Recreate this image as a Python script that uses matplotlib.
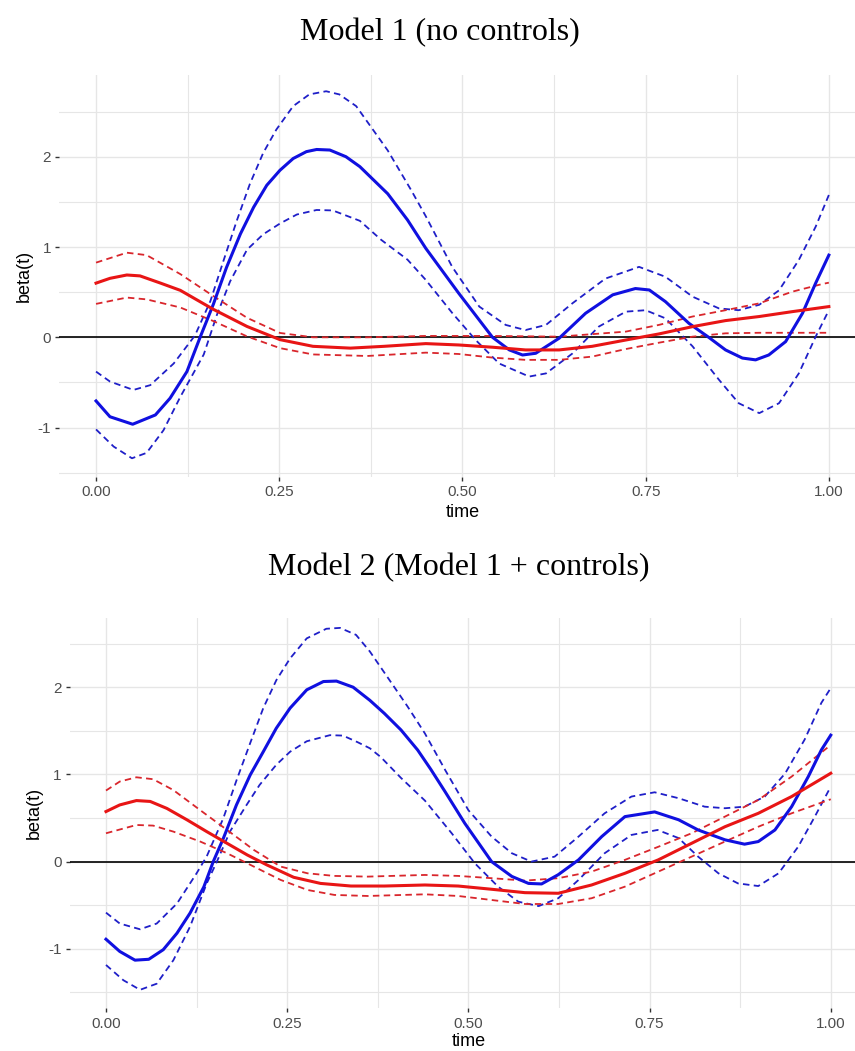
import matplotlib
matplotlib.use("Agg")
import matplotlib.pyplot as plt

# ---------------- Model 1 (no controls) ----------------
m1_blue_t = [0, 0.019, 0.05, 0.081, 0.101, 0.124, 0.142, 0.16, 0.178, 0.197, 0.215, 0.233, 0.251, 0.269,
             0.287, 0.301, 0.319, 0.341, 0.36, 0.398, 0.425, 0.45, 0.495, 0.541, 0.564, 0.582, 0.6, 0.632,
             0.668, 0.705, 0.736, 0.755, 0.777, 0.809, 0.836, 0.859, 0.882, 0.9, 0.918, 0.941, 0.964,
             0.982, 1.0]
m1_blue = [-0.705, -0.88, -0.963, -0.86, -0.675, -0.38, 0.0, 0.364, 0.773, 1.145, 1.44, 1.684, 1.85, 1.98,
           2.056, 2.08, 2.074, 2.0, 1.89, 1.59, 1.30, 0.985, 0.487, 0.0, -0.14, -0.196, -0.177, -0.01,
           0.266, 0.47, 0.54, 0.524, 0.395, 0.155, 0.0, -0.14, -0.23, -0.25, -0.196, -0.048, 0.266,
           0.6, 0.91]

m1_blue_up_t = [0, 0.019, 0.051, 0.074, 0.106, 0.135, 0.156, 0.174, 0.192, 0.21, 0.228, 0.246, 0.269, 0.291,
                0.314, 0.332, 0.355, 0.398, 0.43, 0.45, 0.486, 0.523, 0.559, 0.586, 0.614, 0.65, 0.695,
                0.741, 0.777, 0.814, 0.85, 0.877, 0.905, 0.932, 0.959, 0.982, 1.0]
m1_blue_up = [-0.38, -0.49, -0.583, -0.53, -0.29, 0.02, 0.40, 0.85, 1.29, 1.70, 2.04, 2.30, 2.56, 2.69,
              2.725, 2.69, 2.56, 2.07, 1.63, 1.34, 0.78, 0.34, 0.137, 0.08, 0.137, 0.376, 0.65,
              0.78, 0.67, 0.45, 0.32, 0.30, 0.36, 0.52, 0.856, 1.225, 1.576]

m1_blue_lo_t = [0, 0.024, 0.049, 0.069, 0.092, 0.115, 0.147, 0.165, 0.183, 0.206, 0.228, 0.251, 0.274, 0.301,
                0.323, 0.36, 0.389, 0.425, 0.45, 0.486, 0.518, 0.55, 0.591, 0.614, 0.65, 0.686, 0.723, 0.75,
                0.777, 0.814, 0.85, 0.877, 0.905, 0.932, 0.959, 0.982, 1.0]
m1_blue_lo = [-1.02, -1.21, -1.34, -1.28, -1.03, -0.66, -0.19, 0.25, 0.62, 0.97, 1.14, 1.26, 1.36, 1.41,
              1.405, 1.29, 1.08, 0.86, 0.635, 0.27, -0.03, -0.29, -0.435, -0.40, -0.18, 0.118, 0.284, 0.30,
              0.21, -0.10, -0.47, -0.73, -0.84, -0.73, -0.40, 0.007, 0.3]

m1_red_t = [0, 0.019, 0.042, 0.06, 0.088, 0.115, 0.16, 0.206, 0.251, 0.296, 0.347, 0.393, 0.45,
            0.495, 0.541, 0.586, 0.632, 0.677, 0.723, 0.768, 0.814, 0.859, 0.905, 0.95, 1.0]
m1_red = [0.60, 0.653, 0.69, 0.68, 0.60, 0.52, 0.31, 0.12, -0.026, -0.10, -0.12, -0.10, -0.07,
          -0.085, -0.11, -0.14, -0.14, -0.10, -0.03, 0.037, 0.118, 0.185, 0.23, 0.284, 0.34]

m1_red_up_t = [0, 0.042, 0.069, 0.115, 0.16, 0.206, 0.251, 0.296, 0.37, 0.45, 0.541, 0.632, 0.723,
               0.768, 0.814, 0.859, 0.905, 0.95, 0.991, 1.0]
m1_red_up = [0.827, 0.937, 0.91, 0.70, 0.457, 0.216, 0.048, 0.0, 0.0, 0.015, 0.015, 0.007, 0.063,
             0.137, 0.23, 0.30, 0.376, 0.505, 0.59, 0.605]

m1_red_lo_t = [0, 0.042, 0.069, 0.115, 0.16, 0.206, 0.251, 0.296, 0.37, 0.45, 0.495, 0.541, 0.586,
               0.632, 0.677, 0.723, 0.768, 0.814, 0.859, 0.905, 0.95, 1.0]
m1_red_lo = [0.37, 0.44, 0.42, 0.33, 0.18, 0.01, -0.12, -0.19, -0.207, -0.17, -0.185, -0.225, -0.25,
             -0.25, -0.214, -0.13, -0.06, 0.007, 0.044, 0.05, 0.05, 0.05]

# ---------------- Model 2 (Model 1 + controls) ----------------
m2_blue_t = [0, 0.019, 0.04, 0.059, 0.079, 0.098, 0.116, 0.135, 0.148, 0.162, 0.18, 0.199, 0.217, 0.235,
             0.254, 0.277, 0.3, 0.318, 0.341, 0.364, 0.384, 0.407, 0.43, 0.448, 0.468, 0.495, 0.532, 0.56,
             0.583, 0.601, 0.624, 0.652, 0.684, 0.716, 0.757, 0.79, 0.817, 0.854, 0.881, 0.9, 0.923, 0.946,
             0.969, 0.987, 1.0]
m2_blue = [-0.89, -1.03, -1.13, -1.12, -1.01, -0.82, -0.59, -0.29, 0.0, 0.268, 0.65, 0.994, 1.26, 1.53,
           1.76, 1.97, 2.065, 2.07, 2.0, 1.85, 1.70, 1.51, 1.28, 1.06, 0.80, 0.44, 0.0, -0.17,
           -0.25, -0.256, -0.15, 0.02, 0.287, 0.516, 0.57, 0.48, 0.363, 0.25, 0.20, 0.23, 0.363, 0.63,
           0.975, 1.28, 1.45]

m2_blue_up_t = [0, 0.019, 0.047, 0.07, 0.098, 0.125, 0.139, 0.162, 0.18, 0.199, 0.217, 0.235, 0.254, 0.277,
                0.304, 0.323, 0.345, 0.364, 0.388, 0.416, 0.44, 0.468, 0.5, 0.532, 0.56, 0.587, 0.619, 0.652,
                0.688, 0.725, 0.757, 0.79, 0.826, 0.854, 0.881, 0.909, 0.937, 0.964, 0.987, 1.0]
m2_blue_up = [-0.585, -0.71, -0.776, -0.71, -0.48, -0.134, 0.06, 0.50, 0.93, 1.36, 1.76, 2.08, 2.33, 2.56,
              2.67, 2.68, 2.60, 2.41, 2.12, 1.78, 1.47, 1.05, 0.59, 0.287, 0.096, 0.0, 0.057, 0.287,
              0.554, 0.746, 0.795, 0.727, 0.63, 0.612, 0.63, 0.746, 1.01, 1.40, 1.82, 1.99]

m2_blue_lo_t = [0, 0.024, 0.047, 0.07, 0.093, 0.116, 0.139, 0.153, 0.171, 0.194, 0.212, 0.235, 0.254, 0.277,
                0.309, 0.327, 0.347, 0.364, 0.379, 0.407, 0.44, 0.477, 0.509, 0.541, 0.569, 0.597, 0.624,
                0.652, 0.688, 0.725, 0.761, 0.79, 0.817, 0.845, 0.872, 0.9, 0.928, 0.955, 0.978, 1.0]
m2_blue_lo = [-1.185, -1.36, -1.47, -1.40, -1.13, -0.745, -0.25, 0.0, 0.344, 0.65, 0.88, 1.11, 1.26, 1.38,
              1.45, 1.445, 1.37, 1.30, 1.20, 0.96, 0.70, 0.325, -0.02, -0.287, -0.46, -0.51, -0.42,
              -0.21, 0.096, 0.306, 0.363, 0.27, 0.057, -0.134, -0.25, -0.28, -0.134, 0.17, 0.516, 0.86]

m2_red_t = [0, 0.019, 0.042, 0.061, 0.084, 0.112, 0.139, 0.167, 0.195, 0.222, 0.259, 0.296, 0.338, 0.384,
            0.44, 0.486, 0.532, 0.578, 0.624, 0.67, 0.716, 0.762, 0.808, 0.854, 0.9, 0.946, 1.0]
m2_red = [0.574, 0.65, 0.70, 0.69, 0.61, 0.478, 0.344, 0.21, 0.076, -0.038, -0.18, -0.25, -0.28, -0.28,
          -0.268, -0.28, -0.317, -0.356, -0.363, -0.268, -0.134, 0.02, 0.21, 0.40, 0.554, 0.746, 1.013]

m2_red_up_t = [0, 0.019, 0.042, 0.065, 0.093, 0.13, 0.167, 0.204, 0.241, 0.278, 0.315, 0.361, 0.44, 0.486,
               0.532, 0.578, 0.624, 0.67, 0.716, 0.762, 0.808, 0.854, 0.9, 0.946, 1.0]
m2_red_up = [0.815, 0.918, 0.967, 0.945, 0.82, 0.59, 0.363, 0.134, -0.057, -0.134, -0.164, -0.172, -0.153,
             -0.164, -0.19, -0.218, -0.19, -0.115, 0.02, 0.17, 0.325, 0.516, 0.707, 0.975, 1.338]

m2_red_lo_t = [0, 0.042, 0.065, 0.093, 0.13, 0.167, 0.204, 0.241, 0.278, 0.315, 0.361, 0.44, 0.486, 0.532,
               0.578, 0.624, 0.67, 0.716, 0.762, 0.808, 0.854, 0.9, 0.946, 1.0]
m2_red_lo = [0.325, 0.42, 0.413, 0.344, 0.23, 0.096, -0.057, -0.21, -0.325, -0.382, -0.394, -0.375, -0.394,
             -0.44, -0.486, -0.486, -0.42, -0.287, -0.115, 0.057, 0.23, 0.40, 0.554, 0.715]

titles = ["Model 1 (no controls)", "Model 2 (Model 1 + controls)"]
x_label = "time"
y_label = "beta(t)"
x_ticks = [0.0, 0.25, 0.5, 0.75, 1.0]
x_ticklabels = ["0.00", "0.25", "0.50", "0.75", "1.00"]
y_ticks = [-1, 0, 1, 2]
y_ticklabels = ["-1", "0", "1", "2"]

BLUE = "#1010E0"
RED = "#E81515"
RED_D = "#D9262C"
BLUE_D = "#1F1FC8"
GRID = "#E6E6E6"
SANS = "Liberation Sans"

W, H = 855, 1051
fig = plt.figure(figsize=(W / 100, H / 100), dpi=100)
fig.patch.set_facecolor("white")


def px_rect(left, right, top, bottom):
    return [left / W, 1 - bottom / H, (right - left) / W, (bottom - top) / H]


panels = [
    dict(rect=px_rect(59.4, 865.5, 75, 476.7), ylim=(-1.544, 2.905),
         curves=[(m1_blue_t, m1_blue, m1_blue_up_t, m1_blue_up, m1_blue_lo_t, m1_blue_lo),
                 (m1_red_t, m1_red, m1_red_up_t, m1_red_up, m1_red_lo_t, m1_red_lo)],
         title_x=440, title_y=40, ylab_x=24.5, xlab_y=517),
    dict(rect=px_rect(69.75, 867, 618.3, 1008.3), ylim=(-1.682, 2.79),
         curves=[(m2_blue_t, m2_blue, m2_blue_up_t, m2_blue_up, m2_blue_lo_t, m2_blue_lo),
                 (m2_red_t, m2_red, m2_red_up_t, m2_red_up, m2_red_lo_t, m2_red_lo)],
         title_x=459, title_y=575, ylab_x=34.5, xlab_y=1046),
]

DASH = (0, (3.6, 2.4))

for i, p in enumerate(panels):
    ax = fig.add_axes(p["rect"])
    ax.set_xlim(-0.05, 1.05)
    ax.set_ylim(*p["ylim"])
    for s in ax.spines.values():
        s.set_visible(False)
    ax.set_xticks(x_ticks)
    ax.set_xticklabels(x_ticklabels)
    ax.set_yticks(y_ticks)
    ax.set_yticklabels(y_ticklabels)
    ax.set_xticks([0.125, 0.375, 0.625, 0.875], minor=True)
    ax.set_yticks([-1.5, -0.5, 0.5, 1.5, 2.5], minor=True)
    ax.tick_params(which="major", length=3, width=1.0, color="#333333", labelsize=11,
                   labelcolor="#4D4D4D", pad=3)
    ax.tick_params(which="minor", length=0)
    for lbl in ax.get_xticklabels() + ax.get_yticklabels():
        lbl.set_family(SANS)
    ax.grid(which="major", color=GRID, linewidth=1.0)
    ax.grid(which="minor", color=GRID, linewidth=0.8)
    ax.set_axisbelow(True)
    ax.axhline(0, color="black", linewidth=1.2, zorder=2)

    colors = [(BLUE, BLUE_D), (RED, RED_D)]
    for (tt, v, tu, vu, tl, vl), (cs, cd) in zip(p["curves"], colors):
        ax.plot(tu, vu, color=cd, linewidth=1.3, linestyle=DASH, zorder=3)
        ax.plot(tl, vl, color=cd, linewidth=1.3, linestyle=DASH, zorder=3)
        ax.plot(tt, v, color=cs, linewidth=2.2, zorder=4)

    # title
    fig.text(p["title_x"] / W, 1 - p["title_y"] / H, titles[i], ha="center", va="baseline",
             fontsize=23, family="Liberation Serif", color="black")
    # x label centred on panel
    cx = p["rect"][0] + p["rect"][2] * (0.55 / 1.1)
    fig.text(cx, 1 - p["xlab_y"] / H, x_label, ha="center", va="baseline",
             fontsize=13, family=SANS, color="black")
    # y label centred vertically on panel
    cy = p["rect"][1] + p["rect"][3] / 2
    fig.text(p["ylab_x"] / W, cy, y_label, rotation=90, ha="center", va="center",
             fontsize=13, family=SANS, color="black")

fig.savefig("out.png", dpi=100, facecolor="white")
